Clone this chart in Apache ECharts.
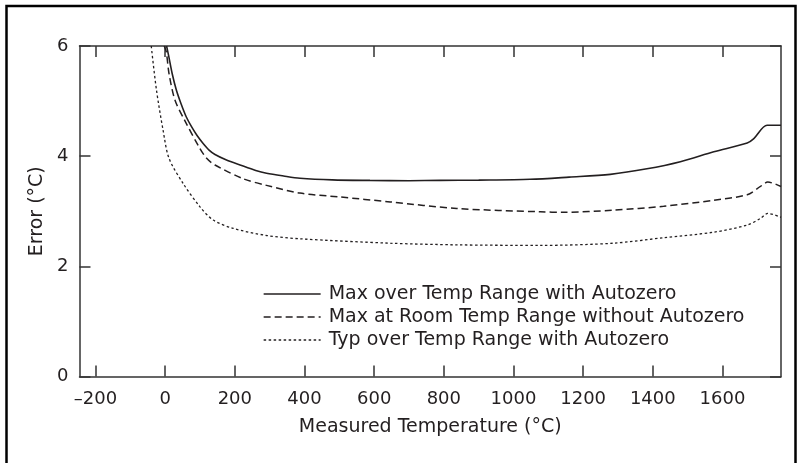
<!DOCTYPE html>
<html>
<head>
<meta charset="utf-8">
<script src="https://cdn.jsdelivr.net/npm/echarts@6/dist/echarts.min.js"></script>
<style>
  html, body { margin: 0; padding: 0; background: #fff; }
  #chart { width: 798px; height: 463px; }
</style>
</head>
<body>
<div id="chart"></div>
<script>
// tick labels
const xTicks = [-200, 0, 200, 400, 600, 800, 1000, 1200, 1400, 1600];

// Max over Temp Range with Autozero
const solidT = [4, 10, 20, 32, 45, 60, 76, 92, 109, 126, 143, 176, 215, 260, 291, 340, 387, 480, 588, 700, 789, 900, 1048, 1160, 1278, 1383, 1479, 1575, 1671, 1690, 1728, 1768];
const solidE = [6.0, 5.82, 5.5, 5.2, 4.96, 4.72, 4.53, 4.37, 4.23, 4.11, 4.03, 3.93, 3.84, 3.74, 3.69, 3.64, 3.6, 3.57, 3.56, 3.555, 3.56, 3.565, 3.58, 3.62, 3.67, 3.77, 3.9, 4.08, 4.24, 4.32, 4.56, 4.56];

// Max at Room Temp Range without Autozero
const dashT = [-3, 3, 11, 28, 56, 97, 119, 143, 224, 291, 387, 500, 646, 837, 1077, 1144, 1287, 1431, 1575, 1671, 1709, 1730, 1768];
const dashE = [6.0, 5.9, 5.5, 5.02, 4.65, 4.17, 3.96, 3.84, 3.59, 3.47, 3.33, 3.26, 3.17, 3.05, 2.99, 2.98, 3.02, 3.09, 3.2, 3.3, 3.45, 3.53, 3.45];

// Typ over Temp Range with Autozero
const dotT = [-40, -25, -6, 11, 52, 100, 138, 195, 291, 387, 646, 837, 1077, 1287, 1431, 1575, 1671, 1709, 1730, 1768];
const dotE = [6.0, 5.2, 4.47, 3.96, 3.5, 3.08, 2.84, 2.69, 2.56, 2.5, 2.42, 2.39, 2.38, 2.42, 2.52, 2.62, 2.75, 2.87, 2.96, 2.89];

const names = [
  'Max over Temp Range with Autozero',
  'Max at Room Temp Range without Autozero',
  'Typ over Temp Range with Autozero'
];

function zip(a, b) {
  return a.map((v, i) => [v, b[i]]);
}

const ink = '#231f20';
const axisColor = '#333';
const font = 'DejaVu Sans';

let chart = echarts.init(document.getElementById('chart'));

function xAxisDef(pos, showLabel) {
  return {
    type: 'value',
    position: pos,
    min: -246,
    max: 1768,
    axisLine: { show: true, onZero: false, lineStyle: { color: axisColor, width: 1.5 } },
    axisTick: { show: true, inside: true, length: 11, customValues: xTicks, lineStyle: { color: axisColor, width: 1.5 } },
    axisLabel: {
      show: showLabel,
      customValues: xTicks,
      margin: 14,
      fontFamily: font,
      fontSize: 18,
      color: ink,
      formatter: v => v < 0 ? '\u2013' + Math.abs(v) : String(v)
    },
    splitLine: { show: false },
    name: showLabel ? 'Measured Temperature (\u00b0C)' : '',
    nameLocation: 'middle',
    nameGap: 41,
    nameTextStyle: { fontFamily: font, fontSize: 19, color: ink }
  };
}

function yAxisDef(pos, showLabel) {
  return {
    type: 'value',
    position: pos,
    min: 0,
    max: 6,
    interval: 2,
    axisLine: { show: true, onZero: false, lineStyle: { color: axisColor, width: 1.5 } },
    axisTick: { show: true, inside: true, length: 11, lineStyle: { color: axisColor, width: 1.5 } },
    axisLabel: {
      show: showLabel,
      margin: 11,
      fontFamily: font,
      fontSize: 18,
      color: ink
    },
    splitLine: { show: false },
    name: showLabel ? 'Error (\u00b0C)' : '',
    nameLocation: 'middle',
    nameGap: 33,
    nameTextStyle: { fontFamily: font, fontSize: 19, color: ink }
  };
}

function lineSeries(name, data, width, type) {
  return {
    name: name,
    type: 'line',
    data: data,
    showSymbol: false,
    symbol: 'none',
    smooth: 0.3,
    lineStyle: { color: ink, width: width, type: type },
    itemStyle: { color: ink }
  };
}

let option = {
  animation: false,
  backgroundColor: '#fff',
  graphic: [{
    type: 'rect',
    shape: { x: 6.5, y: 6, width: 789, height: 470 },
    style: { fill: 'none', stroke: '#000', lineWidth: 2.5 },
    silent: true
  }],
  grid: { left: 79.5, top: 46, right: 17, bottom: 86.5 },
  legend: {
    orient: 'vertical',
    left: 263,
    top: 284,
    padding: 0,
    itemWidth: 57,
    itemHeight: 14,
    itemGap: 3,
    data: names,
    itemStyle: { color: 'transparent', opacity: 0, borderWidth: 0 },
    lineStyle: { width: 1.3 },
    textStyle: { fontFamily: font, fontSize: 19, color: ink, lineHeight: 20, padding: [0, 0, 0, 3] }
  },
  xAxis: [xAxisDef('bottom', true), xAxisDef('top', false)],
  yAxis: [yAxisDef('left', true), yAxisDef('right', false)],
  series: [
    lineSeries(names[0], zip(solidT, solidE), 1.6, 'solid'),
    lineSeries(names[1], zip(dashT, dashE), 1.5, [7, 4]),
    lineSeries(names[2], zip(dotT, dotE), 1.3, [2.5, 2.5])
  ]
};
chart.setOption(option);
</script>
</body>
</html>
